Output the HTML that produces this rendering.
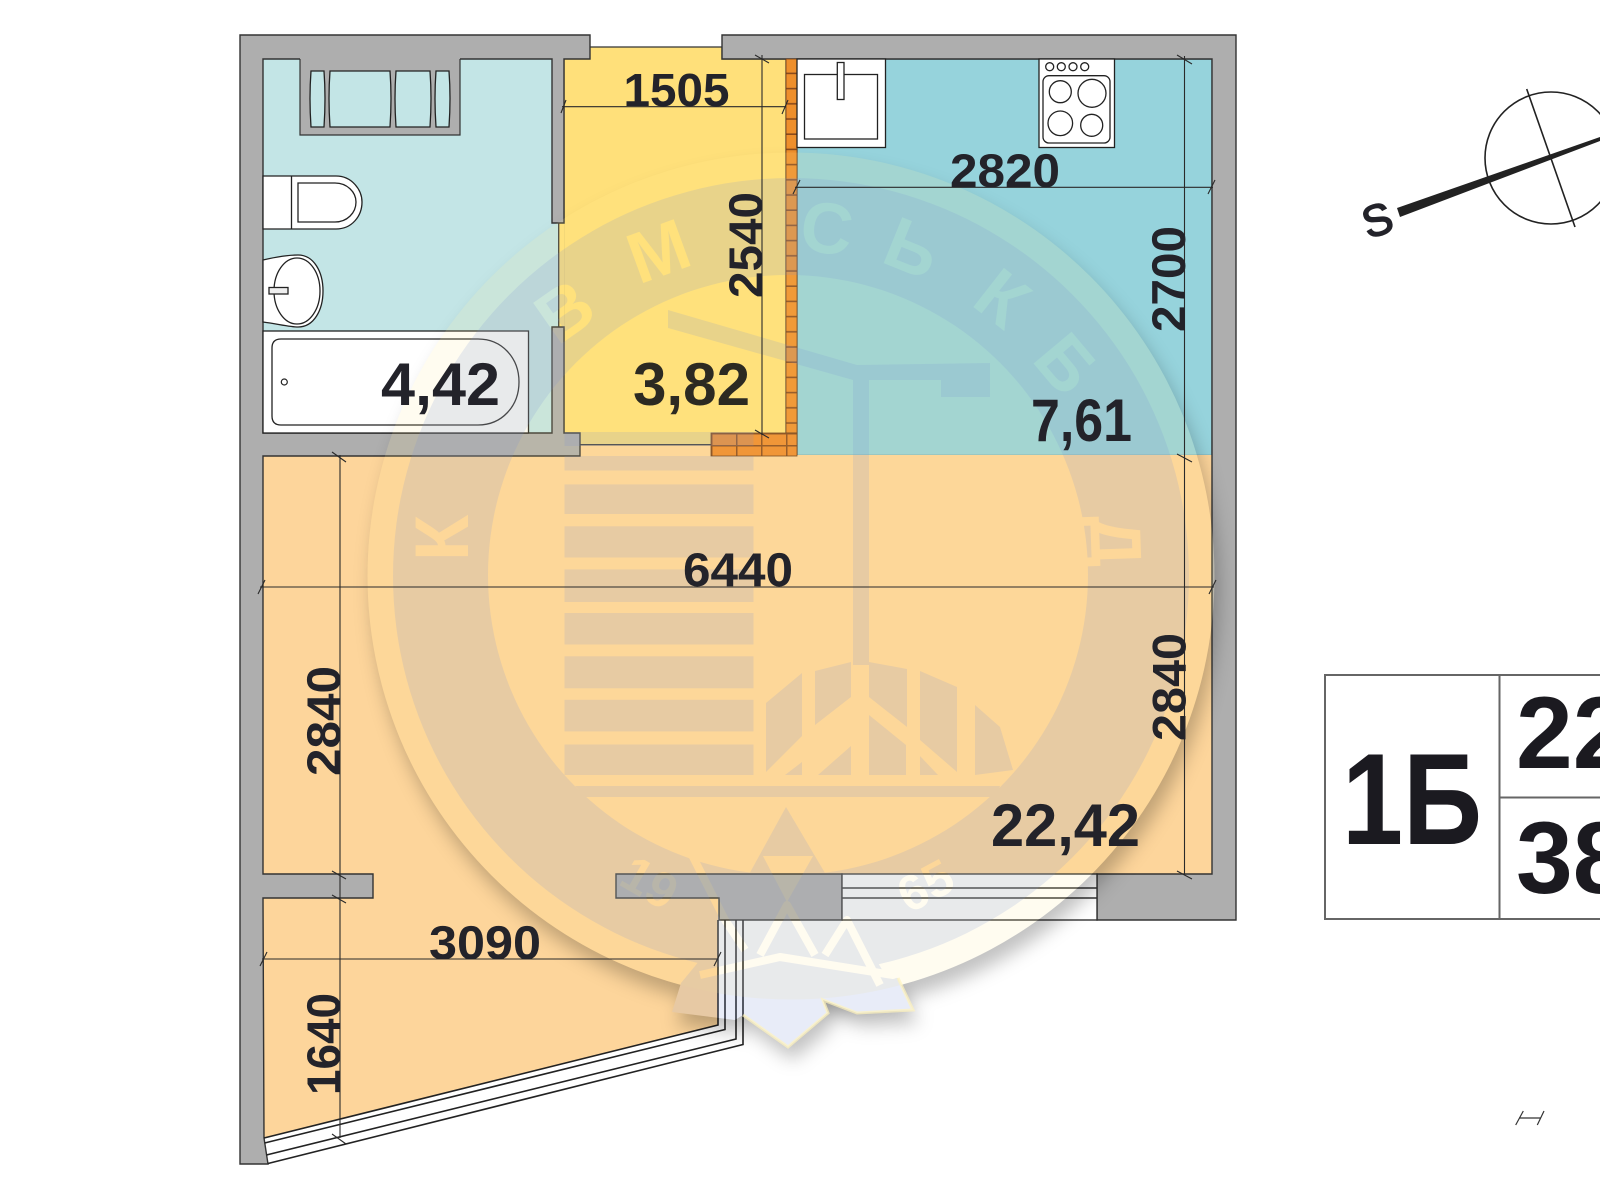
<!DOCTYPE html>
<html><head><meta charset="utf-8"><title>1Б</title>
<style>html,body{margin:0;padding:0;background:#fff;width:1600px;height:1200px;overflow:hidden}svg{display:block}
text{font-family:"Liberation Sans",sans-serif;font-weight:700;fill:#23232a}</style></head><body>
<svg width="1600" height="1200" viewBox="0 0 1600 1200" xmlns="http://www.w3.org/2000/svg">
<defs>
<pattern id="brv" width="11" height="15.2" patternUnits="userSpaceOnUse" x="786" y="59"><rect width="11" height="15.2" fill="#ee8f2c"/><rect y="13.6" width="11" height="1.6" fill="#8a4a1c"/></pattern>
<pattern id="brh" width="25" height="12" patternUnits="userSpaceOnUse" x="711" y="433"><rect width="25" height="12" fill="#ee8a2c"/><rect y="0" width="25" height="1.5" fill="#8a4a1c"/><rect x="0" y="0" width="1.5" height="12" fill="#8a4a1c"/></pattern>
<filter id="bl" x="-20%" y="-20%" width="140%" height="140%"><feGaussianBlur stdDeviation="9"/></filter>
<mask id="outs" maskUnits="userSpaceOnUse" x="0" y="0" width="1600" height="1200"><rect width="1600" height="1200" fill="#fff"/><circle cx="791" cy="576" r="423.5" fill="#000"/><polygon points="672,1012 681,983 700,960 780,958 898,978 913,1010 857,1013 823,1000 828,1013 788,1047 743,1015 735,1020" fill="#000"/></mask>
<mask id="letters" maskUnits="userSpaceOnUse" x="0" y="0" width="1600" height="1200">
<rect width="1600" height="1200" fill="#fff"/>
<g text-anchor="middle">
<text transform="translate(442,538) rotate(-90)" dy="26" font-size="76" style="fill:#000">К</text>
<text transform="translate(564,310) rotate(-35)" dy="26" font-size="72" style="fill:#000">В</text>
<text transform="translate(658,250) rotate(-20)" dy="26" font-size="72" style="fill:#000">М</text>
<text transform="translate(827,227) rotate(8)" dy="26" font-size="72" style="fill:#000">С</text>
<text transform="translate(913,247) rotate(22)" dy="26" font-size="72" style="fill:#000">Ь</text>
<text transform="translate(1003,297) rotate(38)" dy="26" font-size="72" style="fill:#000">К</text>
<text transform="translate(1067,363) rotate(50)" dy="26" font-size="72" style="fill:#000">Б</text>
<text transform="translate(1117,541) rotate(88)" dy="26" font-size="72" style="fill:#000">Д</text>
<text transform="translate(650,882) rotate(30)" dy="18" font-size="50" style="fill:#000">19</text>
<text transform="translate(925,885) rotate(-28)" dy="18" font-size="50" style="fill:#000">65</text>
</g>
<polygon points="763,856 813,856 787,902" fill="#000"/>
<g stroke="#000" stroke-width="8" fill="none" stroke-linejoin="round">
<polyline points="700,975 780,957 893,975 985,935"/>
<polyline points="745,950 725,920 692,855"/>
<polyline points="760,955 787,905 815,955"/>
<polyline points="825,955 847,920 880,985"/>
</g>
</mask>
</defs>
<rect width="1600" height="1200" fill="#fff"/>

<!-- floors -->
<rect x="263" y="59" width="296" height="374" fill="#c3e5e6"/>
<polygon points="564,47 722,47 722,59 786,59 786,445 564,445" fill="#ffe07a" stroke="#333" stroke-width="1.2"/>
<rect x="558.7" y="222" width="6" height="106" fill="#ffe07a"/>
<rect x="797" y="59" width="415" height="396.5" fill="#96d3dc" stroke="#333" stroke-width="1.2"/>
<polygon points="263,455 1212,455 1212,874 263,874" fill="#fdd59b"/>
<rect x="578" y="445" width="134" height="12" fill="#fdd59b"/>
<line x1="578" y1="444.7" x2="712" y2="444.7" stroke="#333" stroke-width="1.3"/>
<polygon points="263,870 718,870 718,1025 264,1138" fill="#fdd59b"/>

<!-- walls -->
<g fill="#aeaeae" stroke="#333" stroke-width="1.4" stroke-linejoin="miter">
<path d="M240,35 H590 V59 H564 V223 H552 V59 H263 V433 H552 V327 H564 V433 H580 V456 H263 V874 H373 V898 H263 L264,1138 L268,1164 H240 Z"/>
<path d="M722,35 H1236 V920 H1097 V874 H1212 V59 H722 Z"/>
<path d="M616,874 H842 V920 H719 V898 H616 Z"/>
</g>
<line x1="558.7" y1="223" x2="558.7" y2="327" stroke="#333" stroke-width="1.3"/>

<!-- window -->
<rect x="842" y="874" width="255" height="46" fill="#fff" stroke="#333" stroke-width="1.4"/>
<line x1="842" y1="888" x2="1097" y2="888" stroke="#333" stroke-width="1.5"/>
<line x1="842" y1="898" x2="1097" y2="898" stroke="#333" stroke-width="1.5"/>

<!-- balcony -->
<g fill="none" stroke="#222" stroke-width="1.6">
<polyline points="718,920 718,1025 264,1138"/>
<polyline points="725,920 725,1029.5 264.6,1143"/>
<polyline points="736,920 736,1039 266.4,1155"/>
<polyline points="743,920 743,1044.5 268,1163.5"/>
</g>

<!-- brick -->
<rect x="786" y="59" width="11" height="374" fill="url(#brv)" stroke="#6a3a18" stroke-width=".8"/>
<rect x="711" y="433" width="86" height="23" fill="url(#brh)" stroke="#6a3a18" stroke-width=".8"/>

<!-- radiator niche -->
<rect x="300" y="58" width="160" height="77" fill="#aeaeae"/>
<path d="M300,59 V135 H460 V59" fill="none" stroke="#333" stroke-width="1.2"/>
<g fill="#c3e5e6" stroke="#222" stroke-width="1.3">
<path d="M311,71 H324 Q326,98 324,127 H311 Q309,98 311,71Z"/>
<path d="M330,71 H390 Q392,98 390,127 H330 Q328,98 330,71Z"/>
<path d="M396,71 H430 Q432,98 430,127 H396 Q394,98 396,71Z"/>
<path d="M436,71 H449 Q451,98 449,127 H436 Q434,98 436,71Z"/>
</g>

<!-- toilet -->
<g fill="#fff" stroke="#222" stroke-width="1.3">
<path d="M263,176 H336 C352,176 362,190 362,202 C362,216 352,229 336,229 H263 Z"/>
<line x1="291.5" y1="176" x2="291.5" y2="229"/>
<path d="M298,183 H335 C347,183 356,192 356,202 C356,213 347,222 335,222 H298 Z"/>
</g>
<!-- basin -->
<g fill="#fff" stroke="#222" stroke-width="1.3">
<path d="M263,260 C280,256 292,255 298,255 C314,255 323,272 323,291 C323,310 314,327 298,327 C290,327 278,324 263,322 Z"/>
<ellipse cx="297" cy="291" rx="23" ry="33"/>
<rect x="269" y="287.5" width="19" height="6.5" fill="#eee"/>
</g>
<!-- bath -->
<rect x="263" y="331" width="265.5" height="102" fill="#fff" stroke="#222" stroke-width="1.3"/>
<path d="M281,339 H478 C502,339 519,358 519,382 C519,406 502,425 478,425 H281 Q272,425 272,416 V348 Q272,339 281,339Z" fill="#fff" stroke="#222" stroke-width="1.3"/>
<circle cx="284.3" cy="382" r="3" fill="#fff" stroke="#222" stroke-width="1.2"/>
<!-- kitchen fixtures -->
<g fill="#fff" stroke="#222" stroke-width="1.3">
<rect x="797" y="59" width="88.5" height="88.5"/>
<rect x="804.5" y="74.5" width="73" height="64.5"/>
<rect x="837.3" y="62.5" width="6.7" height="37"/>
<rect x="1039" y="59" width="75.5" height="88.5"/>
<circle cx="1049.7" cy="66.7" r="4"/><circle cx="1061.3" cy="66.7" r="4"/><circle cx="1073" cy="66.7" r="4"/><circle cx="1084.7" cy="66.7" r="4"/>
<rect x="1043" y="75.7" width="67" height="67.3" rx="6"/>
<circle cx="1060.3" cy="91.7" r="11"/><circle cx="1092" cy="93.3" r="14"/><circle cx="1060.3" cy="123.3" r="12.3"/><circle cx="1091.7" cy="125.3" r="11"/>
</g>

<!-- watermark -->
<g mask="url(#outs)"><g transform="translate(5,13)" filter="url(#bl)" fill="#000" fill-opacity=".24">
<circle cx="791" cy="576" r="423.5"/><polygon points="672,1012 681,983 700,960 780,958 898,978 913,1010 857,1013 823,1000 828,1013 788,1047 743,1015 735,1020"/></g></g>
<circle cx="791" cy="576" r="423.5" fill="#ffe88a" fill-opacity=".13"/>
<g opacity=".16" mask="url(#letters)" fill="#788fd6">
<path fill-rule="evenodd" d="M791,178 a398,398 0 1,0 .01,0 Z M788,275 a300,300 0 1,1 -.01,0 Z"/>
<rect x="564.5" y="456" width="189" height="14.5"/><rect x="564.5" y="484.4" width="189" height="29.6"/><rect x="564.5" y="526.3" width="189" height="31.2"/><rect x="564.5" y="569.4" width="189" height="32.6"/><rect x="564.5" y="613" width="189" height="31.5"/><rect x="564.5" y="656.3" width="189" height="32"/><rect x="564.5" y="699.8" width="189" height="31.6"/><rect x="564.5" y="744.5" width="189" height="30.5"/>
<rect x="564.5" y="432" width="189" height="14"/>
<polygon points="668,310 857,365 990,363 990,397 941,397 941,380 869,380 869,665 853,665 853,380 668,328"/>
<polygon points="766,703 802,673 802,736 766,772"/><polygon points="815,671 851,662 851,697 815,725"/><polygon points="818,775 851,746 851,775"/><polygon points="869,662 907,669 907,727 869,697"/><polygon points="869,715 906,745 906,775 869,775"/><polygon points="920,671 957,687 957,772 920,740"/><polygon points="975,705 1000,727 1013,770 975,775"/><polygon points="920,756 938,775 920,775"/><polygon points="785,775 802,762 802,775"/>
<polygon points="575,786 1000,786 996,797 585,797"/>
<polygon points="786,807 900,1000 680,1000"/>
<polygon points="672,1012 681,983 700,960 780,958 898,978 913,1010 857,1013 823,1000 828,1013 788,1047 743,1015 735,1020"/>
</g>
<polyline points="743,1015 788,1047 828,1013 823,1000 857,1013 913,1010 898,978" fill="none" stroke="#fff3bd" stroke-opacity=".7" stroke-width="3"/>

<!-- dimension lines -->
<g stroke="#2a2a2a" stroke-width="1.1" fill="none">
<line x1="562" y1="106.7" x2="786" y2="106.7"/><path d="M561,113 L566,100 M782,114 L788,100"/>
<line x1="762" y1="55" x2="762" y2="435"/><path d="M755,55 L769,63 M755,430 L769,438"/>
<line x1="795" y1="187.3" x2="1213" y2="187.3"/><path d="M793,194 L800,180 M1208,194 L1215,180"/>
<line x1="1184.5" y1="56" x2="1184.5" y2="875"/><path d="M1177,55 L1192,64 M1177,454 L1192,462 M1177,871 L1192,879"/>
<line x1="260" y1="587" x2="1214" y2="587"/><path d="M258,594 L265,580 M1209,594 L1216,580"/>
<line x1="340" y1="455" x2="340" y2="1138"/><path d="M332,452 L346,462 M332,871 L346,879 M332,895 L346,903 M332,1134 L346,1144"/>
<line x1="262" y1="959" x2="718" y2="959"/><path d="M260,966 L267,952 M714,966 L721,952"/>
</g>

<!-- labels -->
<text x="623.5" y="106" style="font-size:46px" textLength="106" lengthAdjust="spacingAndGlyphs">1505</text>
<text transform="translate(762,298) rotate(-90)" style="font-size:47px" textLength="106" lengthAdjust="spacingAndGlyphs">2540</text>
<text x="950" y="187" style="font-size:47px" textLength="110" lengthAdjust="spacingAndGlyphs">2820</text>
<text transform="translate(1185,332) rotate(-90)" style="font-size:47px" textLength="106" lengthAdjust="spacingAndGlyphs">2700</text>
<text x="683" y="586" style="font-size:47px" textLength="110" lengthAdjust="spacingAndGlyphs">6440</text>
<text transform="translate(1185.5,741) rotate(-90)" style="font-size:47px" textLength="108" lengthAdjust="spacingAndGlyphs">2840</text>
<text transform="translate(340,776) rotate(-90)" style="font-size:47px" textLength="110" lengthAdjust="spacingAndGlyphs">2840</text>
<text x="429" y="959" style="font-size:47px" textLength="112" lengthAdjust="spacingAndGlyphs">3090</text>
<text transform="translate(340,1095) rotate(-90)" style="font-size:47px" textLength="102" lengthAdjust="spacingAndGlyphs">1640</text>
<text x="381" y="405" style="font-size:60px" textLength="119" lengthAdjust="spacingAndGlyphs">4,42</text>
<text x="633" y="405" style="font-size:60px;fill:#2c2a22" textLength="117" lengthAdjust="spacingAndGlyphs">3,82</text>
<text x="1031" y="441" style="font-size:60px" textLength="101" lengthAdjust="spacingAndGlyphs">7,61</text>
<text x="991" y="846" style="font-size:60px" textLength="149" lengthAdjust="spacingAndGlyphs">22,42</text>

<!-- info table -->
<g stroke="#666" stroke-width="2" fill="none">
<path d="M1600,675 H1325 V919 H1600"/>
<line x1="1499.5" y1="675" x2="1499.5" y2="919"/>
<line x1="1499.5" y1="797.5" x2="1600" y2="797.5"/>
</g>
<text x="1342" y="844" style="font-size:130px;fill:#1b1a20" textLength="140" lengthAdjust="spacingAndGlyphs">1Б</text>
<text x="1516" y="768" style="font-size:102px;fill:#1b1a20">22,42</text>
<text x="1516" y="893" style="font-size:102px;fill:#1b1a20">38,27</text>

<!-- compass -->
<circle cx="1551" cy="158" r="66" fill="none" stroke="#222" stroke-width="1.6"/>
<line x1="1526.7" y1="89" x2="1575" y2="227" stroke="#222" stroke-width="1.6"/>
<polygon points="1397,208 1600,137 1600,141 1400,217" fill="#222"/>
<text transform="translate(1368,239) rotate(-18)" style="font-size:44px;font-weight:400;stroke:#23232a;stroke-width:1.6">S</text>

<!-- small mark -->
<g stroke="#333" stroke-width="1.2" fill="none"><line x1="1519" y1="1118" x2="1541" y2="1118"/><line x1="1523.3" y1="1111" x2="1515.7" y2="1125"/><line x1="1544" y1="1111" x2="1537.3" y2="1125"/></g>
</svg>
</body></html>
